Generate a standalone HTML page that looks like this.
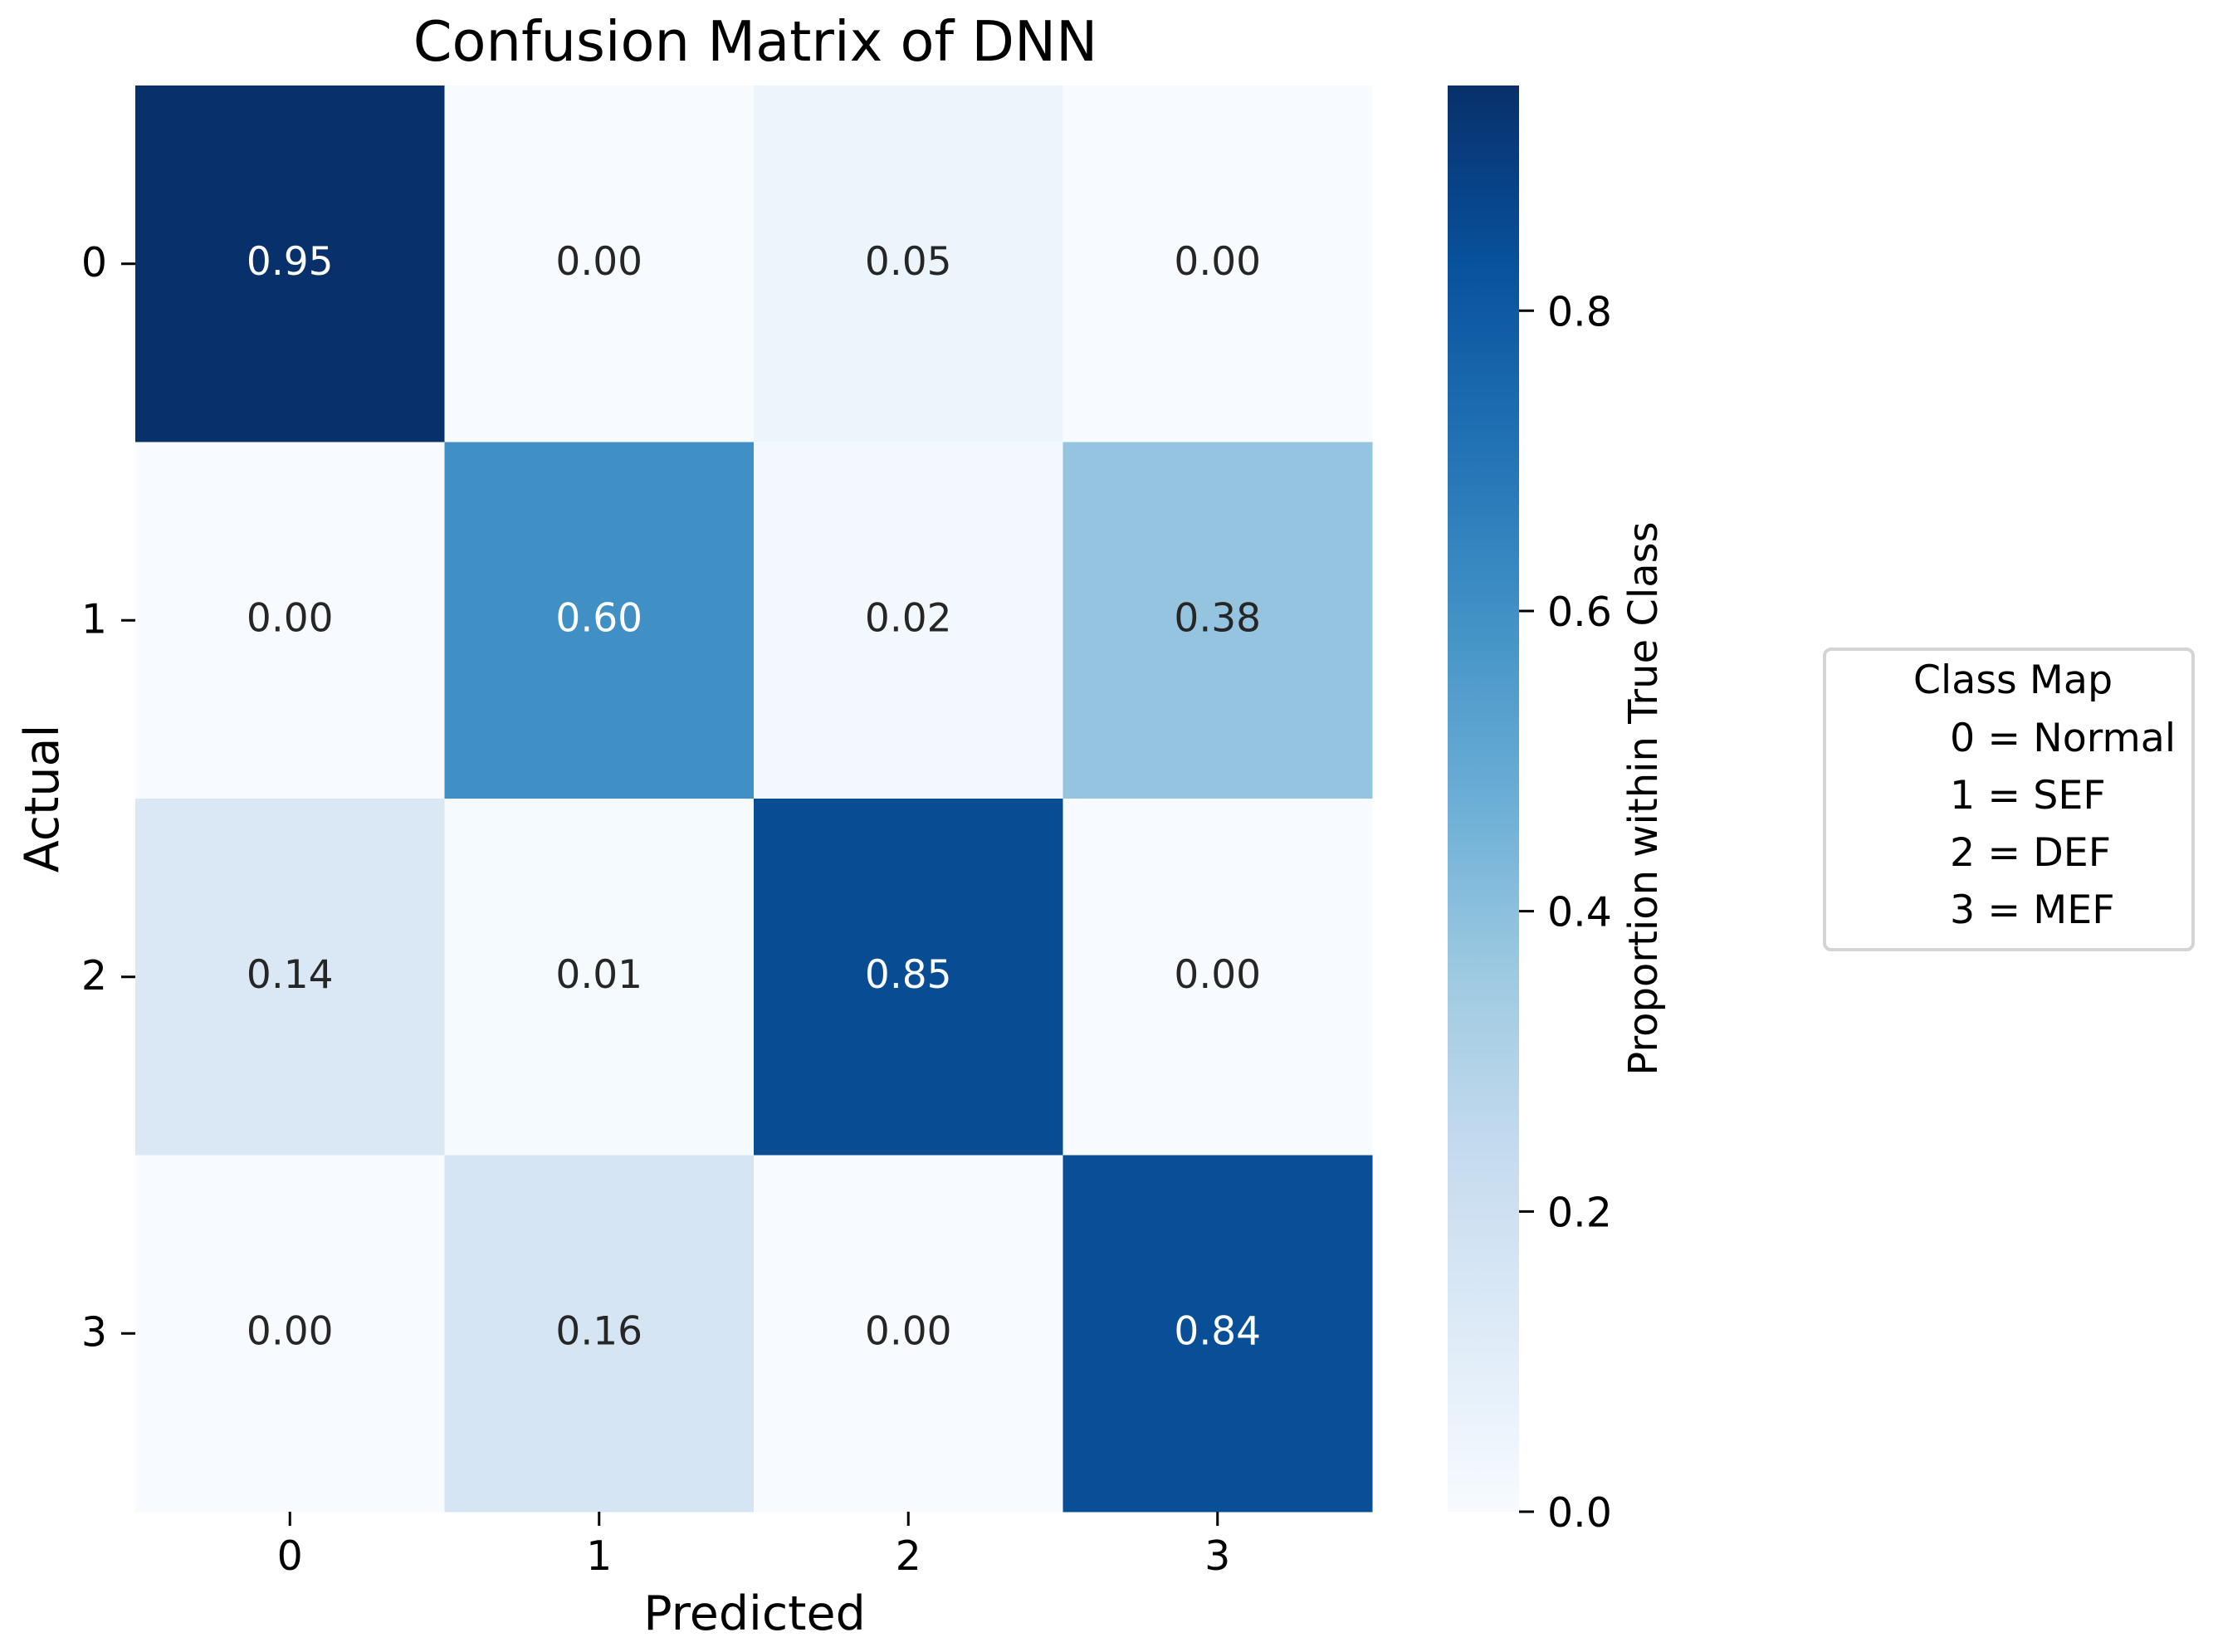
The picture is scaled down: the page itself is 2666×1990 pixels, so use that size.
<!DOCTYPE html>
<html><head><meta charset="utf-8"><style>
html,body{margin:0;padding:0;background:#fff;}
svg{display:block;font-family:"DejaVu Sans","Liberation Sans",sans-serif;}
</style></head><body>
<svg id="chart" width="2666" height="1990" viewBox="0 0 2666 1990" xmlns="http://www.w3.org/2000/svg">
<defs>
<linearGradient id="cbgrad" x1="0" y1="1" x2="0" y2="0">
<stop offset="0" stop-color="#f7fbff"/><stop offset="0.125" stop-color="#deebf7"/>
<stop offset="0.25" stop-color="#c6dbef"/><stop offset="0.375" stop-color="#9ecae1"/>
<stop offset="0.5" stop-color="#6baed6"/><stop offset="0.625" stop-color="#4292c6"/>
<stop offset="0.75" stop-color="#2171b5"/><stop offset="0.875" stop-color="#08519c"/>
<stop offset="1" stop-color="#08306b"/></linearGradient>
</defs>
<text x="910" y="73" font-size="67" text-anchor="middle" fill="#000">Confusion Matrix of DNN</text>
<g id="cells"></g>
<g id="xticks"></g>
<g id="yticks"></g>
<text x="909" y="1963" font-size="57" text-anchor="middle">Predicted</text>
<text transform="translate(70,962) rotate(-90)" font-size="57" text-anchor="middle">Actual</text>
<rect x="1744" y="103" width="86" height="1718" fill="url(#cbgrad)"/>
<g id="cbticks"></g>
<text transform="translate(1996,962) rotate(-90)" font-size="48" text-anchor="middle">Proportion within True Class</text>
<g>
<rect x="2198" y="782" width="444" height="362" rx="8" fill="#fff" stroke="#d4d4d4" stroke-width="4"/>
<text x="2425" y="835" font-size="47.5" text-anchor="middle">Class Map</text>
<text x="2349" y="905" font-size="47.5">0 = Normal</text>
<text x="2349" y="974" font-size="47.5">1 = SEF</text>
<text x="2349" y="1043" font-size="47.5">2 = DEF</text>
<text x="2349" y="1112" font-size="47.5">3 = MEF</text>
</g>
</svg>
<script>
const rowLabels = ["0","1","2","3"];
const colLabels = ["0","1","2","3"];
const row0 = [0.95, 0.00, 0.05, 0.00];
const row1 = [0.00, 0.60, 0.02, 0.38];
const row2 = [0.14, 0.01, 0.85, 0.00];
const row3 = [0.00, 0.16, 0.00, 0.84];
const matrix = [row0, row1, row2, row3];
const cbTicks = [0.0, 0.2, 0.4, 0.6, 0.8];
const vmin = 0, vmax = 0.95;

const NS = "http://www.w3.org/2000/svg";
const X0 = 163, X1 = 1653, Y0 = 103, Y1 = 1821;
const cw = (X1 - X0) / colLabels.length, ch = (Y1 - Y0) / rowLabels.length;
const xPos = i => X0 + i * cw;
const yPos = j => Y0 + j * ch;
const cbY = v => Y1 - (v - vmin) / (vmax - vmin) * (Y1 - Y0);
const stops = ["#f7fbff","#deebf7","#c6dbef","#9ecae1","#6baed6","#4292c6","#2171b5","#08519c","#08306b"];
function hex(h){return [1,3,5].map(k=>parseInt(h.substr(k,2),16));}
function blues(v){
  let t = Math.max(0, Math.min(1, (v - vmin) / (vmax - vmin))) * 8;
  let i = Math.min(7, Math.floor(t)), f = t - i;
  const a = hex(stops[i]), b = hex(stops[i+1]);
  const c = a.map((x,k)=>Math.round(x + (b[k]-x)*f));
  return {css:`rgb(${c[0]},${c[1]},${c[2]})`, lum:(0.299*c[0]+0.587*c[1]+0.114*c[2])/255};
}
function mk(tag, attrs, parent){const e=document.createElementNS(NS,tag);for(const k in attrs)e.setAttribute(k,attrs[k]);parent.appendChild(e);return e;}
const cells = document.getElementById('cells');
matrix.forEach((row, r) => row.forEach((v, c) => {
  const col = blues(v);
  const rect = mk('rect', {x:xPos(c), y:yPos(r), width:cw+0.5, height:ch+0.5, fill:col.css}, cells);
  
  
  const t = mk('text', {x:xPos(c)+cw/2, y:yPos(r)+ch/2+13, 'font-size':47, 'text-anchor':'middle', fill: col.lum < 0.5 ? '#ffffff' : '#262626'}, cells);
  
  
  t.textContent = v.toFixed(2);
}));
const xt = document.getElementById('xticks');
colLabels.forEach((l, i) => {
  const cx = xPos(i) + cw/2;
  const ln = mk('line', {x1:cx, x2:cx, y1:Y1, y2:Y1+17, stroke:'#000', 'stroke-width':3}, xt);
  
  
  const t = mk('text', {x:cx, y:1891, 'font-size':49, 'text-anchor':'middle'}, xt);
  
  
  t.textContent = l;
});
const yt = document.getElementById('yticks');
rowLabels.forEach((l, i) => {
  const cy = yPos(i) + ch/2;
  const ln = mk('line', {x1:X0-17, x2:X0, y1:cy, y2:cy, stroke:'#000', 'stroke-width':3}, yt);
  
  
  const t = mk('text', {x:129, y:cy+15, 'font-size':49, 'text-anchor':'end'}, yt);
  
  
  t.textContent = l;
});
const cbt = document.getElementById('cbticks');
cbTicks.forEach(v => {
  const y = cbY(v);
  const ln = mk('line', {x1:1830, x2:1848, y1:y, y2:y, stroke:'#000', 'stroke-width':3}, cbt);
  
  
  const t = mk('text', {x:1864, y:y+18, 'font-size':49}, cbt);
  
  
  t.textContent = v.toFixed(1);
});
</script>
</body></html>
